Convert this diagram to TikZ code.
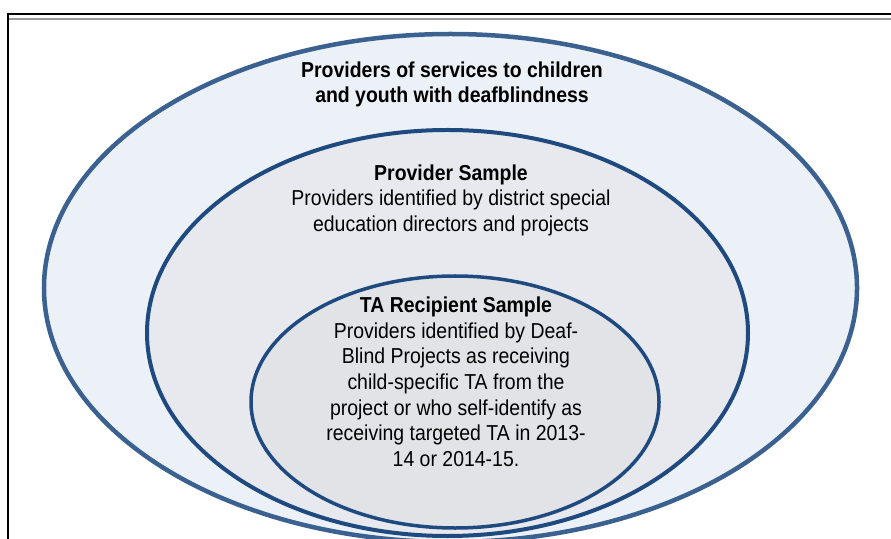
\documentclass[tikz,border=0pt]{standalone}
\usepackage{fontspec}
\setmainfont[FakeStretch=0.9]{Liberation Sans}
\usetikzlibrary{shapes.geometric}
\definecolor{ringout}{HTML}{3B6190}
\definecolor{ringin}{HTML}{1F4A80}
\definecolor{fillout}{HTML}{ECF1F8}
\definecolor{fillmid}{HTML}{E7E9EE}
\definecolor{fillin}{HTML}{E2E3E7}
\tikzset{
  ring/.style={ellipse, inner sep=0pt, outer sep=0pt},
  caption/.style={align=center, anchor=base, font=\fontsize{21.7}{25.8}\selectfont},
}
\begin{document}
\begin{tikzpicture}[x=1bp, y=-1bp]
            \useasboundingbox (0,0) rectangle (891,539);
            \clip (0,0) rectangle (891,539);
            \draw[black!40, line width=1.6bp] (9,19) -- (900,19);
            \draw[line width=2bp] (7.5,560) -- (7.5,14) -- (900,14);
            \node[ring, draw=ringout, fill=fillout, line width=4.5bp, minimum width=813bp, minimum height=508bp] (outer) at (450.5,288) {};
            \node[ring, draw=ringin, fill=fillmid, line width=4bp, minimum width=601bp, minimum height=406bp] (mid) at (447.5,333) {};
            \node[ring, draw=ringin, fill=fillin, line width=3.5bp, minimum width=408bp, minimum height=252bp] (inner) at (455,402) {};
            \node[caption, font=\fontsize{21.7}{25.2}\selectfont\bfseries] (outertext) at (452,103) {Providers of services to children\\and youth with deafblindness};
            \node[caption] (midtext) at (451,231.7) {\textbf{Provider Sample}\\Providers identified by district special\\education directors and projects};
            \node[caption] (innertext) at (456,466.7) {\textbf{TA Recipient Sample}\\Providers identified by Deaf-\\Blind Projects as receiving\\child-specific TA from the\\project or who self-identify as\\receiving targeted TA in 2013-\\14 or 2014-15.};
\end{tikzpicture}
\end{document}
